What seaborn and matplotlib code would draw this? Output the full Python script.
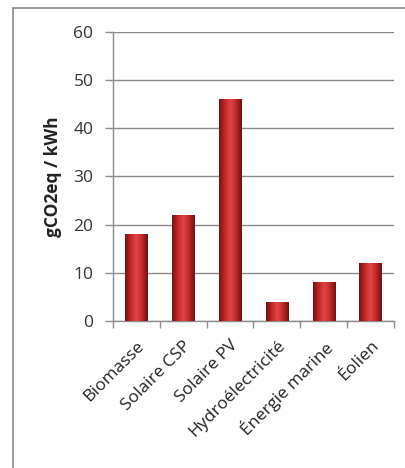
import numpy as np
import pandas as pd
import matplotlib
matplotlib.use("Agg")
import matplotlib.pyplot as plt
import seaborn as sns
from matplotlib.colors import LinearSegmentedColormap
from matplotlib.patches import Rectangle
from matplotlib.ticker import FixedLocator

categories = ["Biomasse", "Solaire CSP", "Solaire PV", "Hydroélectricité", "Énergie marine", "Éolien"]
values = [18, 22, 46, 4, 8, 12]
y_ticks = [0, 10, 20, 30, 40, 50, 60]
y_label = "gCO2eq / kWh"

sns.set_theme(style="white")
plt.rcParams["font.family"] = ["Open Sans", "DejaVu Sans"]

df = pd.DataFrame({"cat": categories, "val": values})

fig = plt.figure(figsize=(4.06, 4.68), dpi=100)
ax = fig.add_axes([0.278, 0.314, 0.692, 0.618])

sns.barplot(data=df, x="cat", y="val", ax=ax, color="#c0282a", width=0.47, saturation=1)

# cylinder-like shading
cmap = LinearSegmentedColormap.from_list("cyl", ["#761212", "#c02828", "#e24646", "#c02828", "#701212"])
grad = np.linspace(0, 1, 64).reshape(1, -1)
for p in ax.patches:
    x0, y0 = p.get_x(), p.get_y()
    w, h = p.get_width(), p.get_height()
    im = ax.imshow(grad, cmap=cmap, extent=[x0, x0 + w, y0, y0 + h], aspect="auto", zorder=3)
    im.set_clip_path(p)
    p.set_edgecolor("#6e1212")
    p.set_linewidth(0.6)

ax.set_xlim(-0.5, len(categories) - 0.5)
ax.set_ylim(0, 60)
ax.set_yticks(y_ticks)
ax.set_yticklabels([str(t) for t in y_ticks], fontsize=12.5, color="#333333")
ax.yaxis.grid(True, color="#8c8c8c", linewidth=1.0)
ax.set_axisbelow(True)

ax.set_xlabel("")
ax.set_ylabel(y_label, fontsize=12.5, fontweight="bold", color="#222222", labelpad=8)

ax.set_xticks(range(len(categories)))
ax.set_xticklabels(categories, rotation=45, ha="right", rotation_mode="anchor", fontsize=12.5, color="#222222")
ax.xaxis.set_minor_locator(FixedLocator(np.arange(-0.5, len(categories), 1.0)))
ax.tick_params(axis="x", which="major", length=0, pad=12)
ax.tick_params(axis="x", which="minor", length=5, color="#8c8c8c", width=1, direction="out", bottom=True)
ax.tick_params(axis="y", which="major", length=6, color="#8c8c8c", width=1, direction="out", left=True, pad=8)

for s in ["top", "right"]:
    ax.spines[s].set_visible(False)
for s in ["left", "bottom"]:
    ax.spines[s].set_color("#8c8c8c")
    ax.spines[s].set_linewidth(1.0)

# outer chart border (left and top visible)
fig.patches.append(Rectangle((13 / 406, -0.1), 1.2, 1 - 8 / 468 + 0.1, transform=fig.transFigure,
                             fill=False, edgecolor="#8a8a8a", linewidth=1.2))

fig.savefig("out.png", dpi=100)
